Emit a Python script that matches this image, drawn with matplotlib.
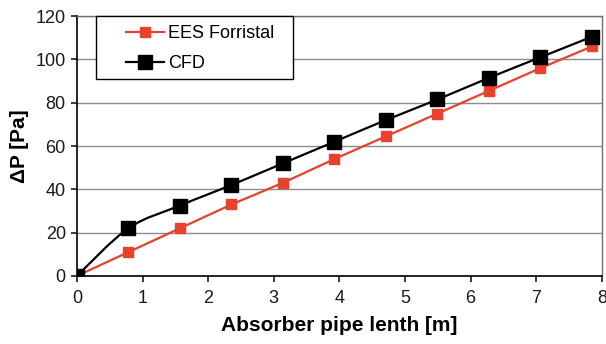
import numpy as np
import matplotlib
matplotlib.use("Agg")
from matplotlib import pyplot as plt
from matplotlib.path import Path
from matplotlib.patches import PathPatch, Rectangle
from matplotlib.lines import Line2D

plt.rcParams['font.family'] = ['Liberation Sans', 'DejaVu Sans']

# Pipe positions [m] and pressure drop [Pa]
length = [0, 0.785, 1.57, 2.355, 3.14, 3.925, 4.71, 5.495, 6.28, 7.065, 7.85]
dp_ees = [0, 11, 22, 33, 43, 54, 64.5, 75, 85.5, 96, 106]
dp_cfd = [0, 22, 32.5, 42, 52, 62, 72, 81.5, 91.5, 101, 110.5]

RED = '#e8412c'


def smooth_path(x, y, t=1/6):
    # Catmull-Rom style bezier through the points (spreadsheet "smoothed line")
    x = np.asarray(x, float)
    y = np.asarray(y, float)
    verts = [(x[0], y[0])]
    codes = [Path.MOVETO]
    n = len(x)
    for i in range(n - 1):
        x0, y0 = (x[i - 1], y[i - 1]) if i > 0 else (x[i], y[i])
        x3, y3 = (x[i + 2], y[i + 2]) if i + 2 < n else (x[i + 1], y[i + 1])
        c1 = (x[i] + (x[i + 1] - x0) * t, y[i] + (y[i + 1] - y0) * t)
        c2 = (x[i + 1] - (x3 - x[i]) * t, y[i + 1] - (y3 - y[i]) * t)
        verts += [c1, c2, (x[i + 1], y[i + 1])]
        codes += [Path.CURVE4] * 3
    return Path(verts, codes)


fig = plt.figure(figsize=(6.06, 3.44), dpi=100)
ax = fig.add_axes([0.127, 0.198, 0.866, 0.755])

ax.plot(length, dp_ees, color=RED, lw=1.6, marker='s', ms=7.5, mec=RED, mfc=RED,
        zorder=3)
ax.add_patch(PathPatch(smooth_path(length, dp_cfd), fill=False, ec='black', lw=1.6,
                       zorder=4))
ax.plot(length, dp_cfd, ls='none', marker='s', ms=9.5, color='black', zorder=5)

ax.set_xlim(0, 8)
ax.set_ylim(0, 120)
ax.set_xticks(range(0, 9))
ax.set_yticks(range(0, 121, 20))
ax.yaxis.grid(True, color='#8c8c8c', lw=1.0)
ax.set_axisbelow(True)

for s in ['left', 'bottom']:
    ax.spines[s].set_color('black')
    ax.spines[s].set_linewidth(1.2)
for s in ['top', 'right']:
    ax.spines[s].set_color('#707070')
    ax.spines[s].set_linewidth(1.0)

ax.tick_params(axis='both', direction='out', length=4, width=1.2, labelsize=13,
               colors='#1a1a1a')
ax.tick_params(axis='x', pad=6)
ax.tick_params(axis='y', pad=4)
ax.set_xlabel('Absorber pipe lenth [m]', fontsize=15, fontweight='bold', labelpad=7)
ax.set_ylabel('ΔP [Pa]', fontsize=15, fontweight='bold', labelpad=5)

# legend box drawn separately so it can be wider than its contents
ax.add_patch(Rectangle((0.036, 0.758), 0.376, 0.242, transform=ax.transAxes,
                       fc='white', ec='black', lw=1.0, zorder=6, clip_on=False))
handles = [
    Line2D([], [], color=RED, lw=1.6, marker='s', ms=7.5, mfc=RED, mec=RED),
    Line2D([], [], color='black', lw=1.6, marker='s', ms=9.5),
]
leg = ax.legend(handles, ['EES Forristal', 'CFD'], loc='upper left',
                bbox_to_anchor=(0.093, 0.966), fontsize=13, frameon=False,
                handlelength=2.1, handletextpad=0.25, borderpad=0,
                labelspacing=0.73, borderaxespad=0)
leg.set_zorder(7)

fig.savefig('out.png', dpi=100)
